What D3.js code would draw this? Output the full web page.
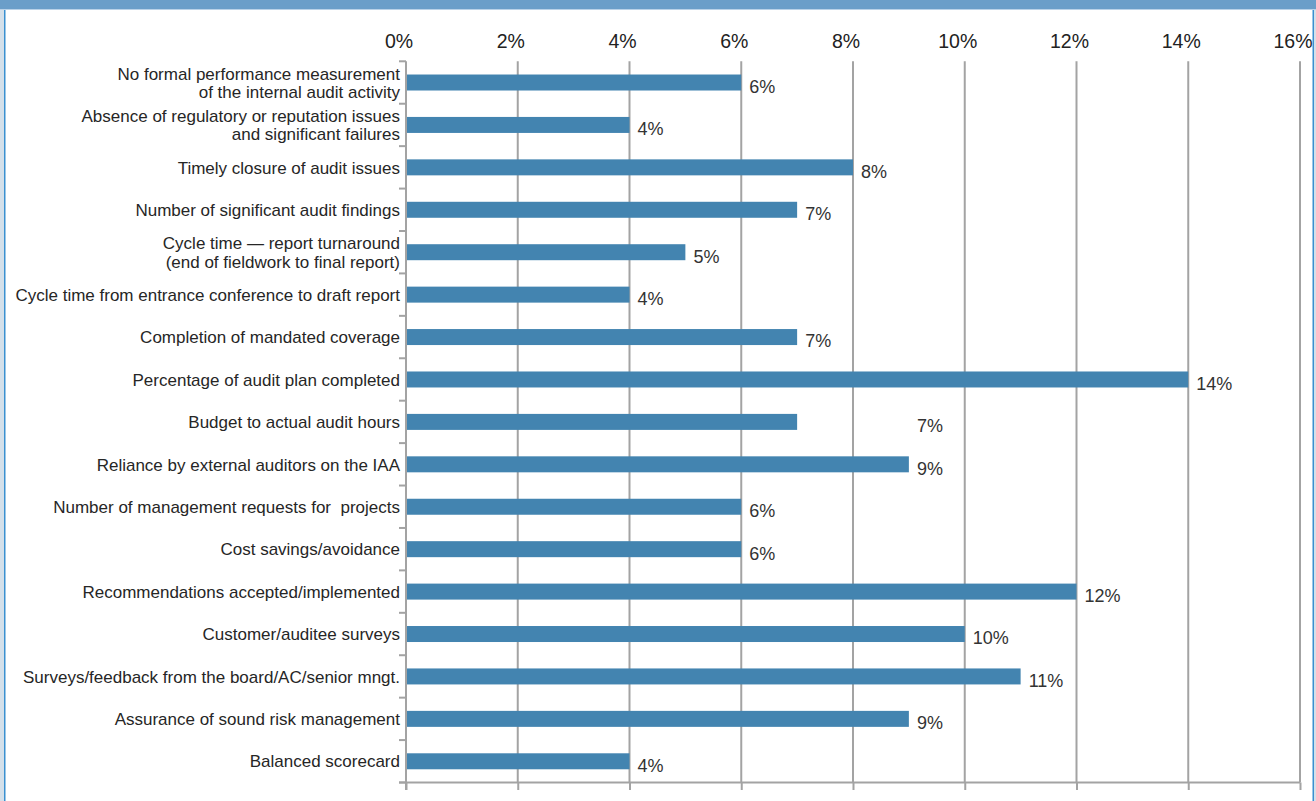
<!DOCTYPE html>
<html>
<head>
<meta charset="utf-8">
<script src="https://cdn.jsdelivr.net/npm/d3@7"></script>
<style>
  html, body { margin: 0; padding: 0; background: #fff; }
  svg { display: block; }
  text { white-space: pre; }
</style>
</head>
<body>
<svg id="chart" width="1316" height="801"></svg>
<script>
// Performance measures used for the internal audit activity (share of respondents)
const categories = [
  "No formal performance measurement\nof the internal audit activity",
  "Absence of regulatory or reputation issues\nand significant failures",
  "Timely closure of audit issues",
  "Number of significant audit findings",
  "Cycle time \u2014 report turnaround\n(end of fieldwork to final report)",
  "Cycle time from entrance conference to draft report",
  "Completion of mandated coverage",
  "Percentage of audit plan completed",
  "Budget to actual audit hours",
  "Reliance by external auditors on the IAA",
  "Number of management requests for  projects",
  "Cost savings/avoidance",
  "Recommendations accepted/implemented",
  "Customer/auditee surveys",
  "Surveys/feedback from the board/AC/senior mngt.",
  "Assurance of sound risk management",
  "Balanced scorecard"
];
const values = [6, 4, 8, 7, 5, 4, 7, 14, 7, 9, 6, 6, 12, 10, 11, 9, 4];
const tickValues = [0, 2, 4, 6, 8, 10, 12, 14, 16];

const W = 1316, H = 801;
const svg = d3.select("#chart");
const FONT = "'Liberation Sans', Arial, sans-serif";
const NARROW = "'Liberation Sans Narrow', 'Liberation Sans', Arial, sans-serif";
const GRID = "#a3a3a3";

// frame: header band and side rules
svg.append("rect").attr("x", 0).attr("y", 0).attr("width", W).attr("height", 9).attr("fill", "#6a9ec9");
svg.append("rect").attr("x", 0).attr("y", 9).attr("width", W).attr("height", 1).attr("fill", "#b9d2e8");
svg.append("rect").attr("x", 0).attr("y", 10).attr("width", 4).attr("height", H - 10).attr("fill", "#d4e0ea");
svg.append("rect").attr("x", 4).attr("y", 10).attr("width", 1.5).attr("height", H - 10).attr("fill", "#3a90d0");
svg.append("rect").attr("x", 1312.5).attr("y", 10).attr("width", 1.5).attr("height", H - 10).attr("fill", "#3a90d0");
svg.append("rect").attr("x", 1314).attr("y", 10).attr("width", 2).attr("height", H - 10).attr("fill", "#d4e0ea");

const x = d3.scaleLinear().domain([0, 16]).range([406, 1300]);
const pad = 0.623;
const y = d3.scaleBand().domain(categories).range([61.3, 782.5])
  .paddingInner(pad).paddingOuter(pad / 2);
const step = y.step();
const y0 = y.range()[0], y1 = y.range()[1];

// vertical gridlines
svg.append("g").selectAll("line")
  .data(tickValues.filter(d => d > 0))
  .join("line")
  .attr("x1", d => x(d)).attr("x2", d => x(d))
  .attr("y1", y0).attr("y2", y1)
  .attr("stroke", GRID).attr("stroke-width", 2);

// top tick labels
const topAxis = svg.append("g")
  .attr("transform", "translate(-7.5,48)")
  .call(d3.axisTop(x).tickValues(tickValues).tickSize(0).tickPadding(0).tickFormat(d => d + "%"));
topAxis.select(".domain").remove();
topAxis.selectAll("text")
  .attr("font-family", FONT).attr("font-size", 19.5).attr("fill", "#222");

// bars
svg.append("g").selectAll("rect")
  .data(values)
  .join("rect")
  .attr("x", x(0))
  .attr("y", (d, i) => y(categories[i]))
  .attr("width", d => x(d) - x(0))
  .attr("height", y.bandwidth())
  .attr("fill", "#4384b0");

// bottom axis with downward ticks
const bottomAxis = svg.append("g")
  .attr("transform", `translate(0,${y1})`)
  .call(d3.axisBottom(x).tickValues(tickValues).tickSize(7.5).tickSizeOuter(0).tickFormat(""));
bottomAxis.select(".domain").remove();
bottomAxis.selectAll("line").attr("stroke", GRID).attr("stroke-width", 2);
svg.append("line")
  .attr("x1", 399).attr("x2", x(16)).attr("y1", y1).attr("y2", y1)
  .attr("stroke", GRID).attr("stroke-width", 2);

// category axis line and boundary ticks
svg.append("line")
  .attr("x1", x(0)).attr("x2", x(0)).attr("y1", y0).attr("y2", y1 + 7.5)
  .attr("stroke", GRID).attr("stroke-width", 2);
const bounds = categories.map(c => y(c) - (step - y.bandwidth()) / 2).concat([y1]);
svg.append("g").selectAll("line")
  .data(bounds)
  .join("line")
  .attr("x1", 399).attr("x2", x(0))
  .attr("y1", d => d).attr("y2", d => d)
  .attr("stroke", GRID).attr("stroke-width", 2);

// category labels, right aligned against the axis
const lineH = 18.3;
const labels = svg.append("g")
  .attr("font-family", FONT).attr("font-size", 17).attr("fill", "#262626")
  .attr("text-anchor", "end");
categories.forEach(c => {
  const lines = c.split("\n");
  const cy = y(c) + y.bandwidth() / 2;
  const first = cy + 6.2 - (lines.length - 1) * lineH / 2;
  const t = labels.append("text");
  lines.forEach((ln, k) => {
    t.append("tspan").attr("x", 400).attr("y", first + k * lineH).text(ln);
  });
});

// value labels at the end of each bar; the audit-hours label sits further right
const shiftPct = i => (i === 8 ? 2 : 0);
svg.append("g")
  .attr("font-family", NARROW).attr("font-size", 18).attr("fill", "#333")
  .selectAll("text")
  .data(values)
  .join("text")
  .attr("x", (d, i) => x(d + shiftPct(i)) + 8)
  .attr("y", (d, i) => y(categories[i]) + y.bandwidth() / 2 + 10.4)
  .text(d => d + "%");
</script>
</body>
</html>
